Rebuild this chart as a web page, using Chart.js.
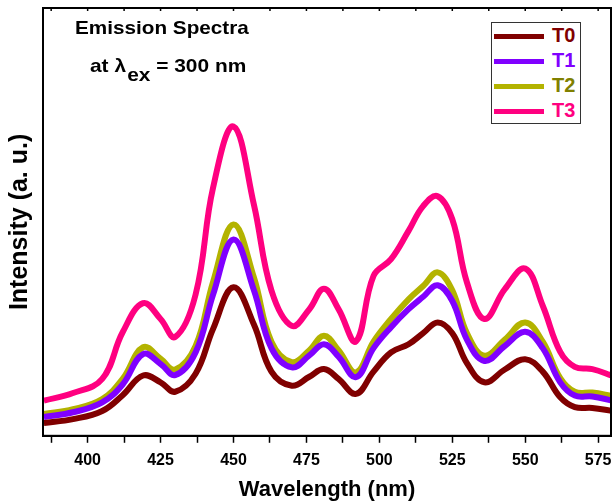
<!DOCTYPE html>
<html lang="en">
<head>
    <meta charset="UTF-8">
    <title>Emission Spectra</title>
    <script src="https://cdn.jsdelivr.net/npm/chart.js"></script>
    <style>
        body { margin: 0; background: #fff; }
        #wrap { position: relative; width: 612px; height: 501px; font-family: Arial, "Liberation Sans", sans-serif; }
        .note { position: absolute; font-weight: bold; color: #000; white-space: nowrap; transform-origin: left top; }
        #legend { position: absolute; left: 491px; top: 22px; width: 88px; height: 100px; border: 1px solid #333; background: #fff; }
        .row { position: absolute; left: 1px; height: 20px; }
        .row span.ln { position: absolute; left: 1px; top: 9px; width: 50px; height: 5px; }
        .row span.tx { position: absolute; left: 59px; top: -1px; font-weight: bold; font-size: 20px; }
    </style>
</head>
<body>
<div id="wrap">
    <canvas id="spectraChart" width="612" height="501"></canvas>

    <div class="note" style="left:75px; top:17px; font-size:19px; transform:scaleX(1.09);">Emission Spectra</div>
    <div class="note" style="left:90px; top:55px; font-size:19px; transform:scaleX(1.1);">at &lambda;<sub style="font-size:19px; vertical-align:-9px; margin-left:1px;">ex</sub>&nbsp;= 300 nm</div>

    <div id="legend"></div>
</div>

<script>
// wavelength (nm)
const wavelengths = [385, 395, 405, 412, 419, 425, 430, 437, 443, 450, 457, 463, 470, 476, 481, 486,
                     492, 498, 504, 510, 515, 520, 525, 530, 536, 543, 550, 556, 562, 567, 573, 580];

// intensity (a. u.)
const t0 = [3.0, 3.9, 5.8, 9.5, 14.1, 12.5, 10.3, 14.5, 25, 34.7, 26, 15, 11.7, 13.8, 15.6, 13.3,
            9.8, 15, 19.5, 21.4, 24, 26.5, 24, 17, 12.5, 15.5, 17.9, 15, 9, 6.7, 6.5, 5.8];
const t1 = [4.4, 5.5, 7.8, 12, 19.1, 16.8, 14.2, 19.5, 33, 45.9, 34, 20.5, 16, 18.8, 21.4, 18.5,
            13.7, 20.5, 25.4, 29.6, 32.5, 35.2, 31.5, 22.5, 17.5, 21, 24.3, 20.5, 12.5, 9.4, 9.2, 8.2];
const t2 = [5.1, 6.2, 8.6, 13.3, 20.7, 18, 15.5, 21, 36, 49.4, 37, 22, 17.2, 20, 23.4, 20,
            14.8, 22, 27.3, 31.9, 35, 38.2, 34, 24, 18.7, 22.5, 26.5, 22, 13.5, 10.3, 10.1, 9.3];
const t3 = [8.2, 10.0, 13.3, 24.2, 31, 27.3, 23.1, 33, 58, 72.3, 54, 34, 25.7, 29.6, 34.4, 29.6,
            22.1, 37.4, 41.3, 47.9, 53.7, 56, 50.6, 35.9, 27.3, 34.3, 39.1, 30.4, 19.6, 16.1, 15.6, 14];

const seriesNames = ['T0', 'T1', 'T2', 'T3'];
const lineColors = ['#800000', '#8000ff', '#b3b300', '#ff0080'];
const textColors = ['#800000', '#8000ff', '#808000', '#ff0080'];
const seriesData = [t0, t1, t2, t3];

const xTickLabels = [400, 425, 450, 475, 500, 525, 550, 575];
const xMinorStep = 12.5;

const datasets = seriesNames.map((name, i) => ({
    label: name,
    data: wavelengths.map((w, j) => ({ x: w, y: seriesData[i][j] })),
    borderColor: lineColors[i],
    borderWidth: 6,
    pointRadius: 0,
    fill: false,
    tension: 0.4,
    order: i
}));

// frame round the plot area, with small inward ticks on the top edge
const frame = {
    id: 'frame',
    afterDraw(chart) {
        const a = chart.chartArea, ctx = chart.ctx;
        ctx.save();
        ctx.strokeStyle = '#000';
        ctx.lineWidth = 2;
        ctx.strokeRect(a.left, a.top, a.right - a.left, a.bottom - a.top);
        ctx.lineWidth = 1.5;
        chart.scales.x.ticks.forEach(t => {
            const px = chart.scales.x.getPixelForValue(t.value);
            ctx.beginPath();
            ctx.moveTo(px, a.top);
            ctx.lineTo(px, a.top + 3);
            ctx.stroke();
        });
        ctx.restore();
    }
};

new Chart(document.getElementById('spectraChart'), {
    type: 'line',
    data: { datasets: datasets },
    plugins: [frame],
    options: {
        responsive: false,
        animation: false,
        layout: { padding: { left: 1, top: 8, right: 1, bottom: 0 } },
        plugins: { legend: { display: false }, tooltip: { enabled: false } },
        scales: {
            x: {
                type: 'linear',
                min: 384.7,
                max: 579.4,
                afterBuildTicks(scale) {
                    // major ticks every 25 nm, minor ticks in between
                    const ticks = [];
                    for (let v = xTickLabels[0] - xMinorStep; v <= scale.max; v += xMinorStep) {
                        if (v >= scale.min) ticks.push({ value: v });
                    }
                    scale.ticks = ticks;
                },
                afterFit(scale) {
                    // let the last label run to the canvas edge like the original
                    scale.paddingRight = 0;
                    scale.paddingLeft = 0;
                },
                ticks: {
                    autoSkip: false,
                    maxRotation: 0,
                    padding: 8,
                    color: '#000',
                    font: { family: 'Arial, "Liberation Sans", sans-serif', size: 16, weight: 'bold' },
                    callback: v => xTickLabels.includes(v) ? String(v) : ''
                },
                grid: { drawOnChartArea: false, tickLength: 7, tickWidth: 1.5, tickColor: '#000' },
                border: { color: '#000', width: 2 },
                title: {
                    display: true,
                    text: 'Wavelength (nm)',
                    color: '#000',
                    padding: { top: 1, bottom: 0 },
                    font: { family: 'Arial, "Liberation Sans", sans-serif', size: 22, weight: 'bold', lineHeight: 1.0 }
                }
            },
            y: {
                min: 0,
                max: 100,
                ticks: { display: false },
                grid: { drawOnChartArea: false, drawTicks: false },
                border: { color: '#000', width: 2 },
                title: {
                    display: true,
                    text: 'Intensity (a. u.)',
                    color: '#000',
                    padding: { top: 4, bottom: 8 },
                    font: { family: 'Arial, "Liberation Sans", sans-serif', size: 25, weight: 'bold', lineHeight: 1.2 }
                }
            }
        }
    }
});

// legend box
const legend = document.getElementById('legend');
seriesNames.forEach((name, i) => {
    const row = document.createElement('div');
    row.className = 'row';
    row.style.top = (2 + i * 25) + 'px';
    row.innerHTML = '<span class="ln" style="background:' + lineColors[i] + '"></span>' +
                    '<span class="tx" style="color:' + textColors[i] + '">' + name + '</span>';
    legend.appendChild(row);
});
</script>
</body>
</html>
